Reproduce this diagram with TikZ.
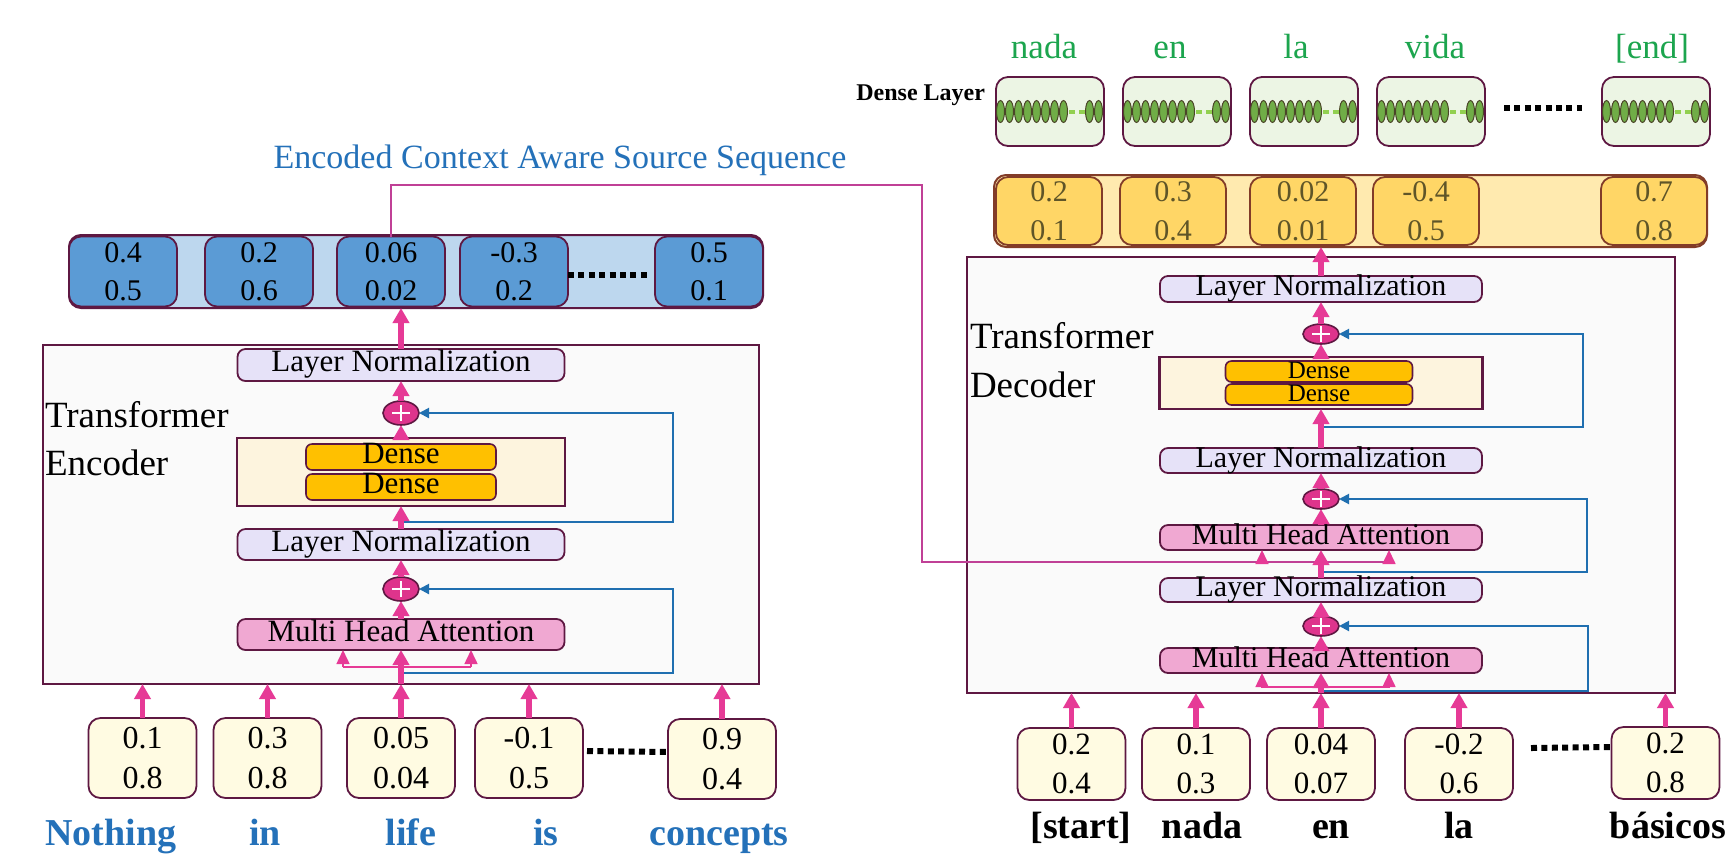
\documentclass[tikz,border=0pt]{standalone}
\usepackage{fontspec}
\setmainfont{Liberation Serif}
\usetikzlibrary{arrows.meta,shapes.geometric}
\definecolor{dpurple}{RGB}{94,24,66}
\definecolor{barblue}{RGB}{189,215,238}
\definecolor{boxblue}{RGB}{91,155,213}
\definecolor{inyellow}{RGB}{255,251,226}
\definecolor{ctnfill}{RGB}{250,250,250}
\definecolor{lnfill}{RGB}{230,226,248}
\definecolor{mhafill}{RGB}{240,168,210}
\definecolor{dcfill}{RGB}{253,244,222}
\definecolor{denseor}{RGB}{255,192,0}
\definecolor{pluspink}{RGB}{222,52,140}
\definecolor{apink}{RGB}{230,58,150}
\definecolor{bline}{RGB}{31,111,176}
\definecolor{conpink}{RGB}{192,64,150}
\definecolor{wordblue}{RGB}{36,113,185}
\definecolor{wordgreen}{RGB}{28,165,78}
\definecolor{obarfill}{RGB}{255,234,175}
\definecolor{oboxfill}{RGB}{255,214,102}
\definecolor{oboxdraw}{RGB}{130,60,40}
\definecolor{otext}{RGB}{95,85,40}
\definecolor{gfill}{RGB}{236,245,228}
\definecolor{ellg}{RGB}{112,173,71}
\definecolor{ellborder}{RGB}{75,70,40}
\definecolor{dashg}{RGB}{146,208,80}
\tikzset{
  cell/.style={draw=dpurple, line width=0.9pt, rounded corners=6pt, minimum width=54pt, minimum height=35pt, align=center},
  bluecell/.style={cell, fill=boxblue, font=\fontsize{15}{19}\selectfont},
  incell/.style={cell, fill=inyellow, minimum height=40pt, font=\fontsize{16}{20}\selectfont},
  decincell/.style={cell, fill=inyellow, minimum height=36pt, font=\fontsize{15.5}{19.5}\selectfont},
  ocell/.style={cell, draw=oboxdraw, fill=oboxfill, minimum width=53pt, minimum height=34pt, text=otext, font=\fontsize{15}{19.5}\selectfont},
  gcell/.style={cell, fill=gfill, minimum height=34.5pt},
  container/.style={draw=dpurple, line width=1.4pt, fill=ctnfill},
  lnbox/.style={draw=dpurple, line width=0.9pt, fill=lnfill, rounded corners=4pt, minimum width=163.5pt, minimum height=16pt, text height=0.66em, text depth=0pt, font=\fontsize{15.5}{15.5}\selectfont},
  mhabox/.style={lnbox, fill=mhafill},
  dlnbox/.style={lnbox, minimum width=161pt, minimum height=12.5pt, font=\fontsize{15}{15}\selectfont},
  dmhabox/.style={dlnbox, fill=mhafill},
  densectn/.style={draw=dpurple, line width=1.4pt, fill=dcfill},
  densebox/.style={draw=dpurple, line width=0.8pt, fill=denseor, rounded corners=3pt, minimum width=95pt, minimum height=13pt, text height=0.66em, text depth=0pt, font=\fontsize{15.5}{15.5}\selectfont},
  plusnode/.style={ellipse, draw=dpurple, line width=0.8pt, fill=pluspink, minimum width=18pt, minimum height=12pt},
  pinkarrow/.style={draw=apink, line width=2.6pt, -{Triangle[width=8pt,length=7.5pt]}},
  smallarrow/.style={draw=apink, line width=0.8pt, -{Triangle[width=6.5pt,length=7pt]}},
  thinpink/.style={draw=apink, line width=0.8pt},
  skipline/.style={draw=bline, line width=1pt, -{Triangle[width=5pt,length=5pt]}},
  linkline/.style={draw=conpink, line width=0.6pt},
  dotrow/.style={draw=black, line width=3pt, dash pattern=on 3pt off 2.2pt},
  bigword/.style={anchor=base, font=\bfseries\fontsize{19}{19}\selectfont},
  greenword/.style={anchor=base, text=wordgreen, font=\fontsize{17.5}{17.5}\selectfont},
  blocklabel/.style={anchor=base west, font=\fontsize{18.5}{18.5}\selectfont},
  neuron/.style={draw=ellborder, line width=0.5pt, fill=ellg}
}
\begin{document}
\begin{tikzpicture}[x=0.5pt,y=-0.5pt, every node/.style={inner sep=0pt,outer sep=0pt}]
\useasboundingbox (0,0) rectangle (1735,859);
\fill[white] (0,0) rectangle (1735,859);

% ---------------- ENCODER ----------------
\node[text=wordblue, font=\fontsize{17}{17}\selectfont] (enctitle) at (560,160) {Encoded Context Aware Source Sequence};

\node[draw=dpurple, line width=1pt, fill=barblue, rounded corners=6pt, minimum width=347pt, minimum height=36.5pt] (encbar) at (416,271.5) {};
\node[bluecell] (e1) at (123,271.5) {0.4\\0.5};
\node[bluecell] (e2) at (259,271.5) {0.2\\0.6};
\node[bluecell] (e3) at (391,271.5) {0.06\\0.02};
\node[bluecell] (e4) at (514,271.5) {-0.3\\0.2};
\node[bluecell] (e5) at (709,271.5) {0.5\\0.1};
\draw[dotrow] ([yshift=-1.75pt]e4.east) -- ([xshift=-3pt,yshift=-1.75pt]e5.west);

\node[container, minimum width=358pt, minimum height=169.5pt] (encbox) at (401,514.5) {};
\node[blocklabel] (tenc1) at (45,427) {Transformer};
\node[blocklabel] (tenc2) at (45,475) {Encoder};

\node[lnbox] (ln1) at (401,365) {Layer Normalization};
\node[plusnode] (pe1) at (401,413) {};
\node[densectn, minimum width=164pt, minimum height=34pt] (dctn) at (401,472) {};
\node[densebox] (d1) at (401,457) {Dense};
\node[densebox] (d2) at (401,487) {Dense};
\node[lnbox, minimum height=15.5pt] (ln2) at (401,544.5) {Layer Normalization};
\node[plusnode] (pe2) at (401,589) {};
\node[mhabox, minimum height=15.5pt] (mha) at (401,634.5) {Multi Head Attention};

\coordinate (ka) at (343,667);
\coordinate (kb) at (471,667);
\coordinate (s1a) at (401,522);
\coordinate (s1b) at (673,522);
\coordinate (s2a) at (401,673);
\coordinate (s2b) at (673,673);

\draw[thinpink] (ka) -- (kb);
\draw[smallarrow] (ka) -- (ka |- mha.south);
\draw[smallarrow] (kb) -- (kb |- mha.south);
\draw[skipline] (s1a) -- (s1b) |- (pe1.east);
\draw[skipline] (s2a) -- (s2b) |- (pe2.east);

\node[incell] (i1) at (142.5,758) {0.1\\0.8};
\node[incell] (i2) at (267.5,758) {0.3\\0.8};
\node[incell] (i3) at (401,758) {0.05\\0.04};
\node[incell] (i4) at (529,758) {-0.1\\0.5};
\node[incell] (i5) at (722,759) {0.9\\0.4};
\draw[dotrow] ([xshift=2pt,yshift=3.5pt]i4.east) -- ([yshift=3.5pt]i5.west);

\foreach \b in {i1,i2,i3,i4,i5} \draw[pinkarrow] (\b.north) -- (\b.north |- encbox.south);
\draw[pinkarrow] (encbox.south -| mha.south) -- (mha.south);
\draw[pinkarrow] (mha.north) -- (pe2.south);
\draw[pinkarrow] (pe2.north) -- (ln2.south);
\draw[pinkarrow] (ln2.north) -- (dctn.south);
\draw[pinkarrow] (dctn.north) -- (pe1.south);
\draw[pinkarrow] (pe1.north) -- (ln1.south);
\draw[pinkarrow] (ln1.north) -- (ln1.north |- encbar.south);

\node[bigword, text=wordblue] (w1) at (111,845) {Nothing};
\node[bigword, text=wordblue] (w2) at (265,845) {in};
\node[bigword, text=wordblue] (w3) at (411,845) {life};
\node[bigword, text=wordblue] (w4) at (546,845) {is};
\node[bigword, text=wordblue] (w5) at (719,845) {concepts};

% ---------------- DECODER ----------------
\node[anchor=base east, font=\bfseries\fontsize{12}{12}\selectfont] (dlayer) at (985,100) {Dense Layer};
\node[greenword] (gw1) at (1044,58) {nada};
\node[greenword] (gw2) at (1170,58) {en};
\node[greenword] (gw3) at (1296,58) {la};
\node[greenword] (gw4) at (1435,58) {vida};
\node[greenword] (gw5) at (1652,58) {[end]};

\node[gcell] (g1) at (1050,111.5) {};
\node[gcell] (g2) at (1177,111.5) {};
\node[gcell] (g3) at (1304,111.5) {};
\node[gcell] (g4) at (1431,111.5) {};
\node[gcell] (g5) at (1656,111.5) {};
\foreach \g in {g1,g2,g3,g4,g5} {
  \foreach \k in {0,...,7}
    \draw[neuron] ([xshift=2.25pt+4.5pt*\k]\g.west) ellipse [x radius=2pt, y radius=5.5pt];
  \draw[dashg, line width=2pt, dash pattern=on 3pt off 2pt] ([xshift=36.5pt]\g.west) -- ([xshift=44.5pt]\g.west);
  \draw[neuron] ([xshift=46.75pt]\g.west) ellipse [x radius=2pt, y radius=5.5pt];
  \draw[neuron] ([xshift=51.25pt]\g.west) ellipse [x radius=2pt, y radius=5.5pt];
}
\draw[dotrow] ([xshift=9.5pt,yshift=1.75pt]g4.east) -- ([xshift=-10pt,yshift=1.75pt]g5.west);

\node[draw=oboxdraw, line width=1pt, fill=obarfill, rounded corners=6pt, minimum width=356.5pt, minimum height=36pt] (obar) at (1350.5,211) {};
\node[ocell] (o1) at (1049,211) {0.2\\0.1};
\node[ocell] (o2) at (1173,211) {0.3\\0.4};
\node[ocell] (o3) at (1303,211) {0.02\\0.01};
\node[ocell] (o4) at (1426,211) {-0.4\\0.5};
\node[ocell] (o5) at (1654,211) {0.7\\0.8};

\node[container, minimum width=354pt, minimum height=218pt] (decbox) at (1321,475) {};
\node[blocklabel] (tdec1) at (970,348) {Transformer};
\node[blocklabel] (tdec2) at (970,397) {Decoder};

\coordinate (lk1) at (922,185);
\coordinate (lk2) at (922,562);
\coordinate (lk3) at (1389,562);
\draw[linkline] (e3.north) |- (lk1) -- (lk2) -- (lk3);

\node[dlnbox, minimum height=13pt] (dln1) at (1321,289) {Layer Normalization};
\node[plusnode, minimum height=10pt] (pd1) at (1321,334) {};
\node[densectn, minimum width=161.5pt, minimum height=26pt] (ddctn) at (1321,383) {};
\node[densebox, minimum width=93.5pt, minimum height=10.5pt, font=\fontsize{12.5}{12.5}\selectfont] (dd1) at (1319,371.5) {Dense};
\node[densebox, minimum width=93.5pt, minimum height=10.5pt, font=\fontsize{12.5}{12.5}\selectfont] (dd2) at (1319,394.5) {Dense};
\node[dlnbox] (dln2) at (1321,460.5) {Layer Normalization};
\node[plusnode, minimum height=10pt] (pd2) at (1321,499) {};
\node[dmhabox] (dmha1) at (1321,537.5) {Multi Head Attention};
\node[dlnbox, minimum height=12pt] (dln3) at (1321,590) {Layer Normalization};
\node[plusnode, minimum height=10pt] (pd3) at (1321,626) {};
\node[dmhabox] (dmha2) at (1321,660.5) {Multi Head Attention};

\coordinate (da1) at (1262,562);
\coordinate (da2) at (1389,562);
\coordinate (db1) at (1262,687);
\coordinate (db2) at (1389,687);
\coordinate (t1a) at (1321,427);
\coordinate (t1b) at (1583,427);
\coordinate (t2a) at (1321,572);
\coordinate (t2b) at (1587,572);
\coordinate (t3a) at (1321,691);
\coordinate (t3b) at (1588,691);

\draw[smallarrow] (da1) -- (da1 |- dmha1.south);
\draw[smallarrow] (da2) -- (da2 |- dmha1.south);
\draw[thinpink] (db1) -- (db2);
\draw[smallarrow] (db1) -- (db1 |- dmha2.south);
\draw[smallarrow] (db2) -- (db2 |- dmha2.south);
\draw[skipline] (t1a) -- (t1b) |- (pd1.east);
\draw[skipline] (t2a) -- (t2b) |- (pd2.east);
\draw[skipline] (t3a) -- (t3b) |- (pd3.east);

\node[decincell] (j1) at (1071.5,764) {0.2\\0.4};
\node[decincell] (j2) at (1196,764) {0.1\\0.3};
\node[decincell] (j3) at (1321,764) {0.04\\0.07};
\node[decincell] (j4) at (1459,764) {-0.2\\0.6};
\node[decincell] (j5) at (1665.5,763) {0.2\\0.8};
\draw[dotrow] ([xshift=9pt,yshift=8pt]j4.east) -- ([yshift=8pt]j5.west);

\foreach \b in {j1,j2,j3,j4,j5} \draw[pinkarrow] (\b.north) -- (\b.north |- decbox.south);
\draw[pinkarrow] (decbox.south -| dmha2.south) -- (dmha2.south);
\draw[pinkarrow] (dmha2.north) -- (pd3.south);
\draw[pinkarrow] (pd3.north) -- (dln3.south);
\draw[pinkarrow] (dln3.north) -- (dmha1.south);
\draw[pinkarrow] (dmha1.north) -- (pd2.south);
\draw[pinkarrow] (pd2.north) -- (dln2.south);
\draw[pinkarrow] (dln2.north) -- (ddctn.south);
\draw[pinkarrow] (ddctn.north) -- (pd1.south);
\draw[pinkarrow] (pd1.north) -- (dln1.south);
\draw[pinkarrow] (dln1.north) -- (dln1.north |- obar.south);

\node[bigword] (v1) at (1081,838) {[start]};
\node[bigword] (v2) at (1202,838) {nada};
\node[bigword] (v3) at (1331,838) {en};
\node[bigword] (v4) at (1459,838) {la};
\node[bigword] (v5) at (1668,838) {básicos};

% plus signs
\foreach \p in {pe1,pe2,pd1,pd2,pd3}
  \draw[white, line width=0.9pt] ([xshift=-4.5pt]\p.center) -- ([xshift=4.5pt]\p.center)
        ([yshift=-4pt]\p.center) -- ([yshift=4pt]\p.center);
\end{tikzpicture}
\end{document}
